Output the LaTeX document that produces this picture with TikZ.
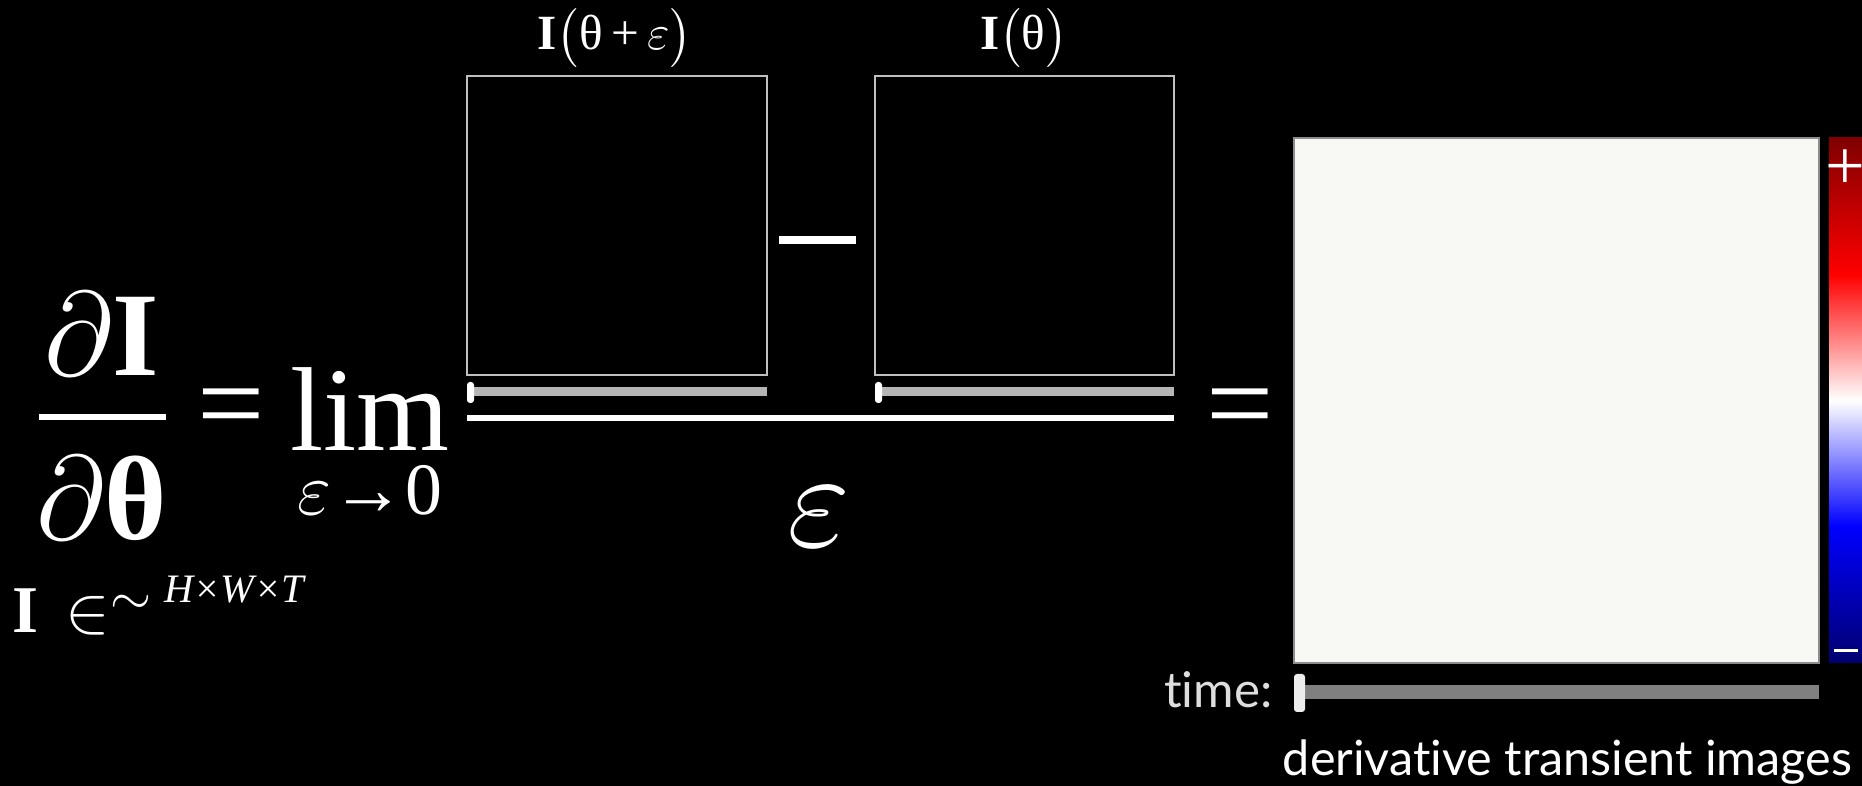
\RequirePackage{fix-cm}
\documentclass[tikz,border=0pt]{standalone}
\usepackage{amsmath,amssymb}
\usepackage{fontspec}
\setmainfont{Liberation Serif}
\newfontfamily\latofont[Ligatures={NoCommon,NoDiscretionary}]{Lato}
\usepackage{xcolor}
\usetikzlibrary{positioning}

\definecolor{cbnavy}{HTML}{000070}
\definecolor{cbmaroon}{HTML}{800000}
\definecolor{paper}{HTML}{F8F8F5}
\pgfdeclareverticalshading{coolwarm}{100bp}{color(0bp)=(cbnavy); color(25bp)=(cbnavy);
  color(38bp)=(blue); color(50bp)=(white); color(62bp)=(red);
  color(75bp)=(cbmaroon); color(100bp)=(cbmaroon)}
\newcommand{\bfI}{\text{\bfseries I}}
\newcommand{\bfth}{\text{\bfseries θ}}

\begin{document}
\begin{tikzpicture}[
          bigmath/.style={text=white, inner sep=0pt, font=\fontsize{34}{40}\selectfont},
          smallmath/.style={text=white, inner sep=0pt, font=\fontsize{21}{24}\selectfont},
          toplabel/.style={text=white, inner sep=0pt, font=\fontsize{14}{20}\selectfont},
          frame/.style={draw=black!25, line width=0.012cm},
          rail/.style={line width=0.09cm, draw=black!29},
          knob/.style={fill=white, rounded corners=0.03cm},
          fracbar/.style={draw=white, line width=0.06cm},
          sans/.style={inner sep=0pt, font=\latofont\fontsize{14}{17}\selectfont}
        ]
          \fill[black] (0,0) rectangle (18.62,-7.86);
          \useasboundingbox (0,0) rectangle (18.62,-7.86);

          \node[bigmath, anchor=base] (num) at (1.02,-3.76) {$\partial\bfI$};
          \node[bigmath, anchor=base] (den) at (1.02,-5.40) {$\partial\bfth$};
          \draw[fracbar] (0.39,-4.17) -- (1.66,-4.17);
          \node[bigmath] (eqa) at (2.31,-4.16) {=};
          \node[bigmath, anchor=base] (lim) at (3.70,-4.51) {lim};
          \node[smallmath, anchor=base] (limsub) at (3.70,-5.15) {$\varepsilon$→0};
          \node[text=white, inner sep=0pt, anchor=base west] (space) at (0.12,-6.33)
            {\fontsize{19}{24}\selectfont\textbf{I}\hspace{0.27cm}${\in}$\hspace{0.0cm}\raisebox{0.18cm}{\fontsize{15}{18}\selectfont$\sim$}\hspace{0.13cm}\raisebox{0.30cm}{\fontsize{11.5}{14}\selectfont\itshape H×W×T}};

          \draw[frame] (4.67,-0.76) rectangle (7.67,-3.75);
          \draw[frame] (8.75,-0.76) rectangle (11.74,-3.75);
          \node[toplabel, anchor=base] (lplus) at (6.15,-0.50)
            {\textbf{I}$\bigl($θ\,+\,$\varepsilon\bigr)$};
          \node[toplabel, anchor=base] (lbase) at (10.24,-0.50)
            {\textbf{I}$\bigl($θ$\bigr)$};
          \draw[line width=0.08cm, white] (7.79,-2.40) -- (8.56,-2.40);

          \draw[rail] (4.70,-3.92) -- (7.67,-3.92);
          \draw[rail] (8.78,-3.92) -- (11.74,-3.92);
          \fill[knob] (4.67,-3.82) rectangle (4.74,-4.03);
          \fill[knob] (8.75,-3.82) rectangle (8.82,-4.03);
          \draw[fracbar] (4.67,-4.18) -- (11.74,-4.18);
          \node[text=white, inner sep=0pt, font=\fontsize{39}{44}\selectfont] (eps) at (8.19,-5.17) {$\varepsilon$};
          \node[bigmath] (eqb) at (12.40,-4.16) {=};

          \draw[draw=black!45, fill=paper, line width=0.02cm] (12.94,-1.38) rectangle (18.19,-6.63);
          \shade[shading=coolwarm] (18.29,-1.38) rectangle (18.62,-6.63);
          \node[text=white, inner sep=0pt, font=\fontsize{20}{24}\selectfont] (plus) at (18.45,-1.70) {+};
          \draw[white, line width=0.03cm] (18.34,-6.51) -- (18.58,-6.51);

          \node[sans, text=black!13, anchor=base east] (timelbl) at (12.73,-7.08) {time:};
          \draw[line width=0.14cm, draw=black!50] (12.96,-6.92) -- (18.19,-6.92);
          \fill[black!7, rounded corners=0.03cm] (12.94,-6.74) rectangle (13.05,-7.12);
          \node[sans, text=white, anchor=base east, font=\latofont\fontsize{13.8}{17}\selectfont] (caption) at (18.53,-7.76) {derivative transient images};
        \end{tikzpicture}
\end{document}
